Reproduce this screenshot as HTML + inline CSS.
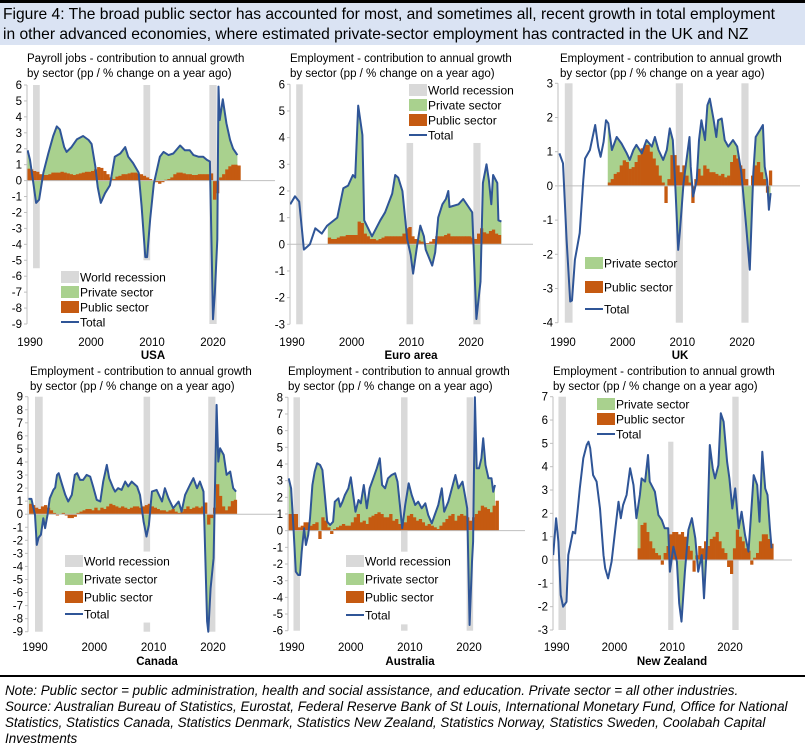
<!DOCTYPE html>
<html><head><meta charset="utf-8">
<style>
body{margin:0;background:#fff;width:805px;height:743px;overflow:hidden;font-family:"Liberation Sans",sans-serif}
#title{position:absolute;left:0;top:0;width:805px;height:45px;background:#dae3f3;border-top:3px solid #000;font-size:15.6px;line-height:20px;padding:2px 3px;box-sizing:border-box;color:#000;white-space:nowrap}
#note{position:absolute;left:0;top:675px;width:805px;border-top:2px solid #000;font-style:italic;font-size:13.4px;line-height:16px;padding:6px 5px 0;box-sizing:border-box;color:#000}
svg{position:absolute;left:0;top:0}
</style></head><body>
<div id="title">Figure 4: The broad public sector has accounted for most, and sometimes all, recent growth in total employment<br>in other advanced economies, where estimated private-sector employment has contracted in the UK and NZ</div>
<svg id="chart" width="805" height="743"></svg>
<div id="note">Note: Public sector = public administration, health and social assistance, and education. Private sector = all other industries.<br>Source: Australian Bureau of Statistics, Eurostat, Federal Reserve Bank of St Louis, International Monetary Fund, Office for National Statistics, Statistics Canada, Statistics Denmark, Statistics New Zealand, Statistics Norway, Statistics Sweden, Coolabah Capital Investments</div>
<script>
// ---------- DATA ----------
const xTickYears=[1990,2000,2010,2020];
// USA
const usaYears=[1989.6,1990.0,1990.5,1991.0,1991.5,1992.2,1993.0,1993.8,1994.4,1994.9,1995.6,1996.0,1996.8,1997.7,1998.7,1999.6,2000.1,2000.7,2001.1,2001.6,2002.3,2003.1,2003.9,2004.8,2005.6,2006.1,2006.9,2007.8,2008.3,2008.9,2009.2,2009.7,2010.3,2011.3,2011.9,2012.7,2013.5,2014.6,2015.4,2016.2,2016.8,2017.6,2018.4,2019.0,2019.5,2020.0,2020.3,2020.7,2020.9,2021.1,2021.6,2022.2,2022.8,2023.3,2024.0];
const usaTotal=[1.9,1.3,0.0,-1.4,-1.2,0.5,1.7,2.8,3.4,3.2,2.1,1.8,2.1,2.6,2.8,2.55,2.3,0.9,-0.4,-1.4,-0.8,-0.3,1.5,1.7,2.1,1.5,1.1,0.5,-1.6,-4.8,-4.8,-2.4,-0.2,1.5,1.8,1.6,1.7,2.2,1.9,1.9,1.6,1.5,1.5,1.3,1.2,-8.7,-7.1,-3.7,5.9,3.8,5.1,3.6,2.55,2.0,1.6];
const usaPubStart=1989.5;
const usaPublic=[0.75,0.7,0.6,0.55,0.4,0.35,0.35,0.4,0.5,0.5,0.5,0.55,0.5,0.45,0.4,0.35,0.4,0.45,0.5,0.55,0.55,0.6,0.7,0.85,0.8,0.6,0.4,0.2,0.1,0.25,0.3,0.4,0.4,0.45,0.5,0.5,0.45,0.4,0.3,0.2,0.1,0.0,-0.1,-0.2,-0.1,0.05,0.1,0.2,0.4,0.5,0.5,0.45,0.4,0.4,0.35,0.35,0.4,0.4,0.4,0.4,0.45,-1.2,-0.8,0.2,0.4,0.7,0.9,1.0,1.0,0.95];
const usaRecessions=[[1990.5,1991.6,6,-5.5],[2008.6,2009.7,6,-5],[2019.4,2020.6,6,-9]];
// Euro area
const euroYears=[1989.7,1990.5,1991.2,1992.0,1992.5,1993.0,1993.9,1995.0,1995.9,1997.6,1998.6,1999.4,2000.2,2000.6,2001.1,2001.8,2002.1,2003.4,2004.8,2005.6,2006.8,2007.3,2007.8,2008.5,2009.3,2009.9,2010.3,2011.0,2011.5,2012.1,2012.4,2013.5,2014.0,2014.5,2015.2,2015.8,2016.2,2016.4,2017.9,2018.7,2019.6,2020.2,2020.9,2021.6,2022.0,2022.6,2023.0,2023.4,2023.7,2024.4,2024.6,2025.1];
const euroTotal=[1.5,1.8,1.6,-0.2,-0.1,0.0,0.6,0.4,0.7,1.0,2.1,2.2,2.6,2.5,5.2,4.1,0.9,0.3,0.9,1.2,1.9,2.6,2.5,2.0,0.2,-0.4,-1.1,0.0,0.7,0.3,-0.2,-0.8,-0.3,1.0,1.5,1.7,2.0,1.4,1.5,1.7,1.4,1.2,-2.8,-1.4,2.3,3.0,2.4,1.5,2.6,2.3,0.9,0.85];
const euroPubStart=1996;
const euroPublic=[0.25,0.2,0.2,0.25,0.3,0.3,0.35,0.35,0.35,0.35,0.85,0.8,0.4,0.3,0.2,0.2,0.15,0.2,0.25,0.3,0.3,0.3,0.3,0.3,0.3,0.4,0.6,0.65,0.3,0.2,0.15,0.1,0.05,0.05,0.1,0.2,0.3,0.3,0.3,0.35,0.4,0.3,0.3,0.3,0.3,0.3,0.3,0.3,0.25,0.2,0.4,0.6,0.45,0.4,0.5,0.55,0.4,0.35];
const euroRecessions=[[1990.7,1991.8,6,-3],[2009.2,2010.3,3.8,-3],[2020.4,2021.6,3.8,-3]];
// UK
const ukYears=[1989.4,1990.0,1990.6,1991.2,1991.5,1992.0,1992.3,1992.8,1993.4,1993.7,1994.5,1995.4,1995.9,1996.3,1996.8,1997.2,1997.6,1998.2,1999.0,1999.8,2000.7,2001.2,2001.8,2002.3,2003.2,2004.0,2004.9,2005.4,2006.0,2006.8,2007.4,2007.9,2008.4,2008.8,2009.3,2009.6,2010.2,2010.7,2011.2,2011.4,2011.8,2012.4,2012.8,2013.2,2013.8,2014.2,2014.6,2015.2,2015.7,2016.0,2016.6,2017.1,2017.7,2018.5,2019.2,2019.9,2020.7,2021.3,2021.9,2022.3,2023.0,2023.5,2023.8,2024.2,2024.5,2024.8];
const ukTotal=[0.95,0.66,-1.58,-3.38,-3.35,-2.16,-1.87,-1.38,0.17,0.8,1.05,1.78,1.14,0.85,1.29,1.92,1.83,1.05,1.43,1.24,0.95,0.76,1.05,1.2,0.95,1.34,1.15,1.43,1.05,0.76,1.05,1.68,1.34,0.08,-1.87,-1.33,0.08,0.76,1.43,0.56,-0.31,0.17,1.34,1.92,1.34,2.36,2.55,1.97,1.43,1.92,1.97,1.34,1.15,1.34,1.15,0.37,-1.19,-2.45,0.37,1.43,1.63,1.78,0.56,0.17,-0.7,-0.21];
const ukPubStart=1997.5;
const ukPublic=[0.1,0.2,0.35,0.4,0.6,0.75,0.7,0.5,0.55,0.7,0.9,1.1,1.2,1.2,1.0,0.8,0.6,0.3,0.1,-0.5,0.2,0.9,0.9,0.6,0.4,0.6,0.3,0.1,-0.5,0.2,0.5,0.3,0.6,0.5,0.4,0.4,0.35,0.3,0.35,0.25,0.3,0.7,0.9,0.8,0.6,0.5,0.2,0.0,0.3,0.6,0.7,0.4,0.2,-0.2,0.45];
const ukRecessions=[[1990.3,1991.6,3,-4],[2008.9,2010.1,3,-4],[2019.9,2021.1,3,-4]];
// Canada
const canYears=[1988.9,1989.4,1990.0,1990.3,1990.6,1991.0,1991.4,1991.7,1992.1,1992.5,1993.1,1993.4,1993.7,1994.0,1994.5,1995.1,1995.6,1996.2,1996.7,1997.1,1997.6,1998.1,1998.7,1999.3,1999.8,2000.4,2001.0,2001.5,2002.1,2002.5,2003.2,2003.5,2004.0,2004.6,2005.2,2005.7,2006.3,2007.2,2007.7,2008.3,2008.8,2009.2,2009.7,2010.5,2011.4,2011.9,2012.5,2013.3,2014.2,2014.7,2015.3,2016.1,2016.7,2017.3,2017.8,2018.4,2019.0,2019.2,2019.6,2020.1,2020.6,2020.9,2021.2,2021.8,2022.3,2022.9,2023.4,2023.9];
const canTotal=[1.17,1.17,-0.05,-2.35,-1.79,-1.58,-0.31,-1.07,-0.05,1.22,1.86,2.04,3.0,3.14,2.37,1.48,0.97,1.48,3.01,3.14,2.63,2.63,3.01,2.88,2.12,1.1,0.97,2.5,3.78,2.76,1.99,1.73,1.99,1.86,2.5,2.12,2.5,2.12,1.48,-0.56,-1.71,-0.82,1.73,1.86,0.97,1.99,1.22,0.46,0.97,0.2,1.48,2.24,2.76,1.99,2.5,1.73,-8.2,-9,-5.66,-3.37,8.37,4.03,5.05,4.54,3.01,3.27,1.99,1.73];
const canPubStart=1989;
const canPublic=[0.8,0.7,0.5,0.4,0.6,0.7,0.5,0.3,0.1,-0.1,0.0,0.1,-0.1,-0.3,-0.3,-0.2,0.1,0.2,0.3,0.4,0.4,0.3,0.5,0.3,0.5,0.4,0.6,0.8,0.7,0.6,0.5,0.6,0.5,0.4,0.5,0.6,0.6,0.5,0.6,0.7,0.8,0.6,0.5,0.4,0.3,0.3,0.2,0.3,0.4,0.2,0.1,0.2,0.4,0.6,0.4,0.5,0.6,0.5,0.6,0.9,-0.8,-0.3,0.5,2.3,1.4,0.6,0.3,0.6,1.0,1.1];
const canRecessions=[[1990.0,1991.3,9,-9],[2008.3,2009.4,9,-2.86],[2008.3,2009.4,-8.3,-9],[2019.2,2020.4,9,-9]];
// Australia
const ausYears=[1989.5,1989.9,1990.3,1990.7,1991.1,1991.4,1991.7,1992.1,1992.4,1992.8,1993.1,1993.5,1993.9,1994.3,1994.8,1995.2,1995.6,1996.0,1996.5,1997.0,1997.3,1997.9,1998.2,1998.6,1999.0,1999.6,2000.0,2000.4,2000.8,2001.3,2001.7,2002.2,2002.7,2003.2,2003.8,2004.4,2004.9,2005.3,2005.8,2006.3,2006.9,2007.5,2007.9,2008.3,2008.7,2009.2,2009.8,2010.3,2010.9,2011.4,2012.0,2012.6,2013.1,2013.7,2014.2,2014.8,2015.4,2015.8,2016.5,2017.1,2017.7,2018.2,2018.9,2019.3,2019.7,2020.1,2020.5,2020.7,2021.0,2021.3,2021.7,2022.1,2022.4,2022.8,2023.3,2023.8,2024.1,2024.4];
const ausTotal=[3.14,2.54,0.14,-2.46,-2.66,-2.66,-1.26,0.14,-0.86,-0.26,0.74,2.74,3.54,4.04,3.94,3.64,2.14,0.54,0.34,0.54,1.74,1.94,1.44,1.74,2.14,2.54,3.2,2.14,1.14,1.84,1.64,2.74,1.34,2.54,3.14,3.74,4.34,2.74,2.54,3.14,3.34,3.44,2.94,1.54,0.14,1.54,2.84,2.14,1.54,1.74,1.34,1.64,0.94,0.44,0.94,1.54,2.54,1.14,1.74,2.54,3.34,2.54,2.94,2.14,1.34,-5.66,-1.86,-0.66,8,3.74,3.74,4.34,5.54,3.94,3.14,3.14,2.34,2.74];
const ausPubStart=1989.5;
const ausPublic=[1.0,1.0,1.0,0.2,0.3,0.5,0.5,0.3,0.4,0.5,-0.5,0.8,0.6,0.2,-0.2,0.1,0.2,0.3,0.4,0.3,0.3,0.5,0.8,1.0,0.5,0.6,0.4,0.8,0.9,1.0,1.1,1.0,0.8,0.8,1.0,0.6,0.7,0.4,0.5,0.5,0.9,1.0,0.8,0.6,0.7,0.5,0.3,0.4,0.3,0.2,0.1,0.3,0.5,0.7,0.9,1.0,0.6,0.9,1.0,0.9,0.8,0.6,0.8,1.0,1.2,1.5,1.4,1.3,1.1,1.5,1.8];
const ausRecessions=[[1990.3,1991.4,8,-6],[2008.5,2009.6,8,-1.26],[2008.5,2009.6,-5.62,-6],[2019.6,2020.7,8,-6]];
// New Zealand
const nzYears=[1989.4,1989.9,1990.3,1990.7,1991.1,1991.7,1992.0,1992.4,1992.8,1993.2,1993.6,1994.0,1994.6,1995.2,1995.5,1995.8,1996.3,1996.9,1997.5,1998.1,1998.4,1998.9,1999.5,2000.1,2000.7,2001.1,2001.5,2002.1,2002.7,2003.3,2003.8,2004.4,2004.7,2005.3,2005.8,2006.1,2007.0,2007.6,2008.2,2008.7,2009.3,2009.6,2010.2,2010.8,2011.2,2011.6,2012.2,2012.8,2013.4,2014.0,2014.5,2015.1,2015.5,2016.0,2016.5,2017.0,2017.4,2018.0,2018.4,2018.9,2019.5,2019.9,2020.4,2020.9,2021.5,2022.0,2022.6,2023.2,2023.6,2024.1,2024.7,2025.1,2025.6,2026.1,2026.5,2026.9,2027.2];
const nzTotal=[0.21,1.79,0.79,-1.5,-2.0,-1.79,0.21,0.71,1.21,1.14,2.07,3.07,4.36,4.93,5.07,4.79,3.64,3.36,2.21,0.21,-0.36,-0.79,-0.07,1.21,2.5,1.79,2.36,2.79,3.93,3.21,1.79,2.79,3.5,3.36,4.5,3.36,2.93,1.93,1.71,1.36,1.36,-0.5,0.57,-0.07,-1.86,-2.64,-0.5,1.29,1.79,0.93,-0.5,0.21,-1.64,0.64,4.93,3.93,3.5,4.07,6.29,5.93,4.21,3.5,2.21,3.07,1.36,2.07,1.07,0.36,1.79,3.64,3.21,1.64,4.64,3.07,2.79,1.36,0.5];
const nzPubStart=2004;
const nzPublic=[0.5,1.5,1.6,1.2,0.8,0.5,0.3,0.2,-0.2,0.3,0.6,1.1,1.2,1.2,1.1,1.2,1.0,0.6,0.4,-0.5,0.2,0.6,0.5,0.8,0.6,0.9,1.0,1.2,0.8,0.5,0.3,-0.3,-0.6,0.5,1.3,1.0,0.8,0.5,0.4,-0.2,0.1,0.3,0.8,1.1,1.1,0.9,0.7];
const nzRecessions=[[1990.3,1991.6,7,-3],[2009.3,2010.2,5.07,-3],[2020.4,2021.5,7,-3]];

// ---------- RENDER ----------
const NS='http://www.w3.org/2000/svg';
const svg=document.getElementById('chart');
function mk(tag,attrs,parent){const e=document.createElementNS(NS,tag);for(const k in attrs)e.setAttribute(k,attrs[k]);(parent||svg).appendChild(e);return e;}
function txt(str,x,y,size,anchor,weight,parent){const t=mk('text',{x:x,y:y,'font-size':size,'text-anchor':anchor||'start','font-family':'Liberation Sans, sans-serif',fill:'#000','font-weight':weight||'normal'},parent);t.textContent=str;return t;}

const GREEN='#a9d18e',ORANGE='#c55a11',BLUE='#2f5597',GREY='#d9d9d9';

function panel(p){
  const g=mk('g',{});
  
  
  const pxy=(p.x2020-p.x1990)/30;
  const X=yr=>p.x1990+(yr-1990)*pxy;
  const Y=v=>p.yTop+(p.vMax-v)*(p.yBot-p.yTop)/(p.vMax-p.vMin);
  const st1=txt(p.sub1,p.subX,p.subY,11.5,'start','normal',g);
  
  
  const st2=txt('by sector (pp / % change on a year ago)',p.subX,p.subY+15,11.5,'start','normal',g);
  
  
  p.rec.forEach(r=>{
    const rc=mk('rect',{x:X(r[0]),y:Y(r[2]),width:X(r[1])-X(r[0]),height:Y(r[3])-Y(r[2]),fill:GREY},g);
    
    
  });
  const cid='clip-'+p.id;
  const cp=mk('clipPath',{id:cid},g);
  mk('rect',{x:X(p.pubStart),y:p.yTop-10,width:p.xEnd-X(p.pubStart),height:p.yBot-p.yTop+20},cp);
  const cid2='clipall-'+p.id;
  const cp2=mk('clipPath',{id:cid2},g);
  mk('rect',{x:p.axisX,y:p.yTop-4,width:p.xEnd-p.axisX+4,height:p.yBot-p.yTop+8},cp2);
  let d='M'+X(p.years[0])+','+Y(0);
  p.years.forEach((yr,i)=>{d+=' L'+X(yr).toFixed(1)+','+Y(p.total[i]).toFixed(1);});
  d+=' L'+X(p.years[p.years.length-1])+','+Y(0)+'Z';
  const area=mk('path',{d:d,fill:GREEN,'clip-path':'url(#'+cid+')'},g);
  
  
  p.pub.forEach((v,i)=>{
    const yr=p.pubStart+i*0.5;
    const b=mk('rect',{x:X(yr).toFixed(1),y:Math.min(Y(v),Y(0)).toFixed(1),width:(pxy*0.5+0.3).toFixed(1),height:Math.abs(Y(v)-Y(0)).toFixed(1),fill:ORANGE},g);
    
    
  });
  mk('line',{x1:p.axisX,x2:p.xEnd,y1:Y(0),y2:Y(0),stroke:'#bfbfbf','stroke-width':1},g);
  mk('line',{x1:p.axisX,x2:p.axisX,y1:p.yTop,y2:p.yBot,stroke:'#bfbfbf','stroke-width':1},g);
  for(let v=p.vMin;v<=p.vMax;v++){
    mk('line',{x1:p.axisX-3,x2:p.axisX,y1:Y(v),y2:Y(v),stroke:'#bfbfbf'},g);
    const t=txt(String(v),p.axisX-5,Y(v)+4,11.5,'end','normal',g);
    
    
  }
  xTickYears.forEach(yr=>{
    const t=txt(String(yr),X(yr),p.xLabY,11.5,'middle','normal',g);
    
    
  });
  const pts=p.years.map((yr,i)=>X(yr).toFixed(1)+','+Y(Math.max(p.vMin,Math.min(p.vMax,p.total[i]))).toFixed(1)).join(' ');
  const ln=mk('polyline',{points:pts,fill:'none',stroke:BLUE,'stroke-width':2,'stroke-linejoin':'round','clip-path':'url(#'+cid2+')'},g);
  
  
  const cl=txt(p.name,p.nameX,p.nameY,11.5,'middle','bold',g);
  
  
  const lg=mk('g',{},g);
  
  
  p.leg.items.forEach((it,i)=>{
    const y=p.leg.ys[i];
    if(it==='Total') mk('line',{x1:p.leg.x,x2:p.leg.x+18,y1:y,y2:y,stroke:BLUE,'stroke-width':2},lg);
    else mk('rect',{x:p.leg.x,y:y-6,width:18,height:12,fill:it==='World recession'?GREY:it==='Private sector'?GREEN:ORANGE},lg);
    const t=txt(it,p.leg.x+19,y+4.5,12,'start','normal',lg);
    
    
  });
}
const L4=['World recession','Private sector','Public sector','Total'];
const L3=['Private sector','Public sector','Total'];
panel({id:'usa',name:'USA',sub1:'Payroll jobs - contribution to annual growth',subX:27,subY:62,x1990:30,x2020:213,xEnd:275,axisX:27,yTop:85,yBot:324,vMax:6,vMin:-9,xLabY:346,nameX:153,nameY:359,years:usaYears,total:usaTotal,pubStart:usaPubStart,pub:usaPublic,rec:usaRecessions,leg:{x:61,ys:[277,292,307,322],items:L4}});
panel({id:'euro',name:'Euro area',sub1:'Employment - contribution to annual growth',subX:290,subY:62,x1990:292,x2020:471,xEnd:533,axisX:290,yTop:84.3,yBot:324.3,vMax:6,vMin:-3,xLabY:346,nameX:411,nameY:359,years:euroYears,total:euroTotal,pubStart:euroPubStart,pub:euroPublic,rec:euroRecessions,leg:{x:409,ys:[90,105,120,135],items:L4}});
panel({id:'uk',name:'UK',sub1:'Employment - contribution to annual growth',subX:560,subY:62,x1990:563,x2020:742,xEnd:800,axisX:558,yTop:83.3,yBot:322.7,vMax:3,vMin:-4,xLabY:346,nameX:680,nameY:359,years:ukYears,total:ukTotal,pubStart:ukPubStart,pub:ukPublic,rec:ukRecessions,leg:{x:585,ys:[263,287,309],items:L3}});
panel({id:'canada',name:'Canada',sub1:'Employment - contribution to annual growth',subX:30,subY:375,x1990:35,x2020:213,xEnd:280,axisX:28,yTop:396.7,yBot:631.7,vMax:9,vMin:-9,xLabY:651,nameX:157,nameY:665,years:canYears,total:canTotal,pubStart:canPubStart,pub:canPublic,rec:canRecessions,leg:{x:65,ys:[561,579,597,614],items:L4}});
panel({id:'australia',name:'Australia',sub1:'Employment - contribution to annual growth',subX:288,subY:375,x1990:291.7,x2020:469,xEnd:525,axisX:288,yTop:397.3,yBot:630.7,vMax:8,vMin:-6,xLabY:651,nameX:410,nameY:665,years:ausYears,total:ausTotal,pubStart:ausPubStart,pub:ausPublic,rec:ausRecessions,leg:{x:346,ys:[561,579,597,615],items:L4}});
panel({id:'nz',name:'New Zealand',sub1:'Employment - contribution to annual growth',subX:553,subY:375,x1990:556.7,x2020:730,xEnd:792,axisX:553,yTop:396.7,yBot:630,vMax:7,vMin:-3,xLabY:651,nameX:672,nameY:665,years:nzYears,total:nzTotal,pubStart:nzPubStart,pub:nzPublic,rec:nzRecessions,leg:{x:597,ys:[404,419,434],items:L3}});
</script>
</body></html>
